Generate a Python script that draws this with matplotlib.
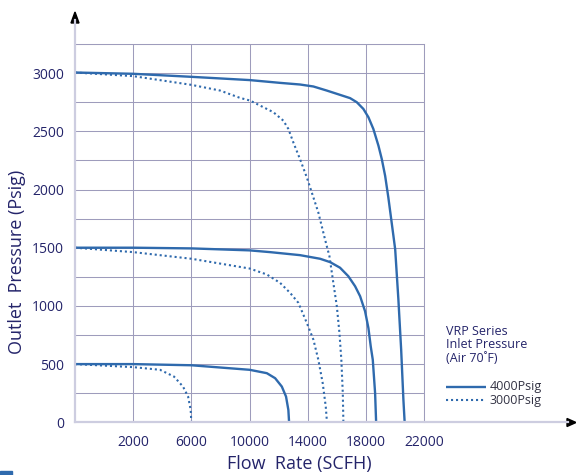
import matplotlib
matplotlib.use("Agg")
import matplotlib.pyplot as plt
from matplotlib.lines import Line2D
from matplotlib.patches import Polygon, Rectangle

# ---------------- data ----------------
x_ticks = [2000, 6000, 10000, 14000, 18000, 22000]
x_tick_labels = ["2000", "6000", "10000", "14000", "18000", "22000"]
y_ticks = [0, 500, 1000, 1500, 2000, 2500, 3000]
y_tick_labels = ["0", "500", "1000", "1500", "2000", "2500", "3000"]
y_grid = [250, 750, 1250, 1750, 2250, 2750, 3250]

# 4000 Psig inlet (solid)
s4000_3000_x = [-2000, 2000, 6000, 10000, 12100, 13460, 14380, 15300, 15990, 16900,
                17360, 17815, 18160, 18500, 18850, 19080, 19310, 19530, 19880, 20000,
                20220, 20410, 20565, 20650]
s4000_3000_y = [3005, 2994, 2968, 2940, 2916, 2902, 2885, 2850, 2822, 2785,
                2750, 2692, 2621, 2520, 2376, 2261, 2117, 1931, 1600, 1485,
                1054, 624, 192, 0]
s4000_1500_x = [-2000, 2000, 6000, 10000, 11400, 13460, 14840, 15530, 16210, 16780,
                17245, 17590, 17930, 18160, 18320, 18460, 18620, 18690]
s4000_1500_y = [1500, 1500, 1494, 1477, 1462, 1436, 1405, 1376, 1328, 1255,
                1169, 1083, 954, 810, 652, 537, 250, 0]
s4000_500_x = [-2000, 2000, 6000, 10000, 11180, 11750, 12210, 12500, 12660, 12710]
s4000_500_y = [500, 500, 490, 451, 422, 379, 307, 221, 106, 0]

# 3000 Psig inlet (dotted)
s3000_3000_x = [-2000, 2000, 6000, 7970, 9340, 10030, 11630, 12320, 12660, 13000,
                13460, 13930, 14270, 14720, 15180, 15480, 15750, 15990, 16170,
                16300, 16400, 16440]
s3000_3000_y = [3005, 2974, 2899, 2850, 2787, 2764, 2664, 2591, 2520, 2405,
                2261, 2103, 1974, 1802, 1571, 1428, 1198, 997, 767,
                537, 250, 0]
s3000_1500_x = [-2000, 2000, 6000, 10000, 11180, 12090, 12780, 13350, 13930, 14380,
                14720, 15020, 15230, 15300, 15320]
s3000_1500_y = [1500, 1462, 1405, 1321, 1270, 1198, 1112, 1026, 853, 710,
                537, 336, 134, 20, 0]
s3000_500_x = [-2000, 2000, 3840, 4800, 5420, 5770, 5950, 5990]
s3000_500_y = [500, 474, 451, 393, 307, 221, 106, 0]

legend_title = ["VRP Series", "Inlet Pressure", "(Air 70\u02daF)"]
legend_labels = ["4000Psig", "3000Psig"]

# ---------------- style ----------------
W, H = 576, 475
FONT = ["Open Sans", "DejaVu Sans"]
plt.rcParams["font.family"] = FONT
NAVY = "#24246a"
BLUE = "#2f6aad"
GRID = "#9e9cbc"
AXIS = "#cdcde0"

def fx(px):
    return px / W

def fy(py):
    return 1 - py / H

fig = plt.figure(figsize=(W / 100, H / 100), dpi=100)
ax = fig.add_axes([fx(75), fy(422.3), fx(424.3) - fx(75), fy(44) - fy(422.3)])
ax.set_xlim(-2000, 22000)
ax.set_ylim(0, 3250)

ax.set_xticks(x_ticks)
ax.set_xticklabels(x_tick_labels)
ax.set_yticks(y_ticks)
ax.set_yticklabels(y_tick_labels)
ax.set_yticks(y_grid, minor=True)
ax.tick_params(axis="both", which="both", length=0, labelsize=10, labelcolor=NAVY)
ax.tick_params(axis="x", pad=9)
ax.tick_params(axis="y", pad=8)
ax.grid(True, which="both", color=GRID, lw=0.75)
ax.set_axisbelow(True)
for side in ["top", "right"]:
    ax.spines[side].set_color(GRID)
    ax.spines[side].set_linewidth(0.75)
for side in ["left", "bottom"]:
    ax.spines[side].set_visible(False)

solid = dict(color=BLUE, lw=1.7, solid_capstyle="butt", solid_joinstyle="round")
dotted = dict(color=BLUE, lw=1.5, linestyle=(0, (1, 1.4)), dash_capstyle="butt")
ax.plot(s4000_3000_x, s4000_3000_y, **solid)
ax.plot(s4000_1500_x, s4000_1500_y, **solid)
ax.plot(s4000_500_x, s4000_500_y, **solid)
ax.plot(s3000_3000_x, s3000_3000_y, **dotted)
ax.plot(s3000_1500_x, s3000_1500_y, **dotted)
ax.plot(s3000_500_x, s3000_500_y, **dotted)

# axis lines with arrow heads
fig.add_artist(Line2D([fx(75), fx(75)], [fy(422.3), fy(20)], color=AXIS, lw=1.6,
                      transform=fig.transFigure))
fig.add_artist(Line2D([fx(75), fx(568)], [fy(422.3), fy(422.3)], color=AXIS, lw=1.6,
                      transform=fig.transFigure))
fig.add_artist(Polygon([[fx(75), fy(12)], [fx(71), fy(23)], [fx(79), fy(23)]],
                       closed=True, color="black", transform=fig.transFigure))
fig.add_artist(Polygon([[fx(576), fy(422.5)], [fx(567), fy(418.5)], [fx(567), fy(426.5)]],
                       closed=True, color="black", transform=fig.transFigure))

# axis titles
fig.text(fx(299), fy(464), "Flow  Rate (SCFH)", ha="center", va="center",
         fontsize=13, color=NAVY)
fig.text(fx(17), fy(262), "Outlet  Pressure (Psig)", ha="center", va="center",
         rotation=90, fontsize=13, color=NAVY)

# legend block
for i, t in enumerate(legend_title):
    fig.text(fx(446), fy(335 + 13.5 * i), t, ha="left", va="baseline",
             fontsize=9, color=NAVY)
fig.add_artist(Line2D([fx(446), fx(486)], [fy(386.7), fy(386.7)], **solid,
                      transform=fig.transFigure))
fig.add_artist(Line2D([fx(446), fx(486)], [fy(400.3), fy(400.3)], **dotted,
                      transform=fig.transFigure))
fig.text(fx(490), fy(386.7), legend_labels[0], ha="left", va="center",
         fontsize=9, color="#333344")
fig.text(fx(490), fy(400.3), legend_labels[1], ha="left", va="center",
         fontsize=9, color="#333344")

# small corner mark
fig.add_artist(Rectangle((0, 0), fx(12), 4 / H, color=BLUE, transform=fig.transFigure))

fig.savefig("out.png", dpi=100)
